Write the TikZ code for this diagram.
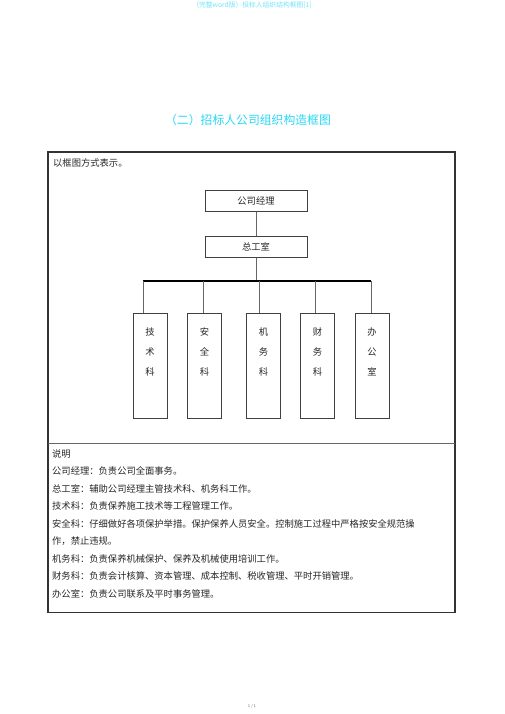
\documentclass[tikz,border=0pt]{standalone}
\usepackage{fontspec}
\usepackage{tikz}
\usetikzlibrary{positioning,calc}
\newfontfamily\cjk{Noto Sans CJK SC}
\definecolor{titlecyan}{RGB}{40,215,245}
\definecolor{headcyan}{RGB}{110,228,248}

\begin{document}
\begin{tikzpicture}[
    x=0.04158cm, y=-0.04158cm,
    every node/.style={font=\cjk\fontsize{11}{13}\selectfont, inner sep=0pt, text=black!85},
    topbox/.style={rectangle, draw=black!75, line width=0.7pt, minimum width=4.24cm, minimum height=0.85cm},
    deptbox/.style={rectangle, draw=black!75, line width=0.7pt, minimum width=1.41cm, minimum height=4.37cm},
    depttext/.style={align=center, font=\cjk\fontsize{11}{23.6}\selectfont},
    link/.style={draw=black!60, line width=0.8pt},
    bus/.style={draw=black, line width=1.6pt},
    frame/.style={draw=black!80, line width=1.2pt}
]
    \useasboundingbox (0,0) rectangle (505,714);

    % Page header and title
    \node[text=headcyan, font=\cjk\fontsize{8}{9}\selectfont] (head) at (252,5) {（完整word版）投标人组织结构框图[1]};
    \node[text=titlecyan, font=\cjk\fontsize{14}{16}\selectfont] (title) at (248,120) {（二）招标人公司组织构造框图};

    % Table frame
    \draw[frame] (48,152) rectangle (455,612);
    \draw[draw=black!60, line width=0.8pt] (48,443) -- (455,443);
    \node[anchor=west] (hint) at (53,163) {以框图方式表示。};

    % Top of the chart
    \node[topbox] (boss) at (256,201) {公司经理};
    \node[topbox] (office) at (256,247) {总工室};

    % Departments
    \node[deptbox] (k1) at (150,365.5) {};
    \node[deptbox] (k2) at (204.5,365.5) {};
    \node[deptbox] (k3) at (263.5,365.5) {};
    \node[deptbox] (k4) at (317.5,365.5) {};
    \node[deptbox] (k5) at (372,365.5) {};
    \node[depttext] (k1t) at (150,352) {技\\术\\科};
    \node[depttext] (k2t) at (204.5,352) {安\\全\\科};
    \node[depttext] (k3t) at (263.5,352) {机\\务\\科};
    \node[depttext] (k4t) at (317.5,352) {财\\务\\科};
    \node[depttext] (k5t) at (372,352) {办\\公\\室};

    % Connections
    \draw[link] (boss) -- (office);
    \coordinate (busL) at (143,281);
    \coordinate (busR) at (371,281);
    \draw[link] (office.south) -- (office.south |- busL);
    \draw[bus] (busL) -- (busR);
    \foreach \i/\x in {1/143,2/203,3/259,4/315,5/371} {
        \coordinate (d\i) at (\x,281);
        \draw[link] (d\i) -- (d\i |- k\i.north);
    }

    % Notes
    \node[anchor=north west, align=left, font=\cjk\fontsize{11}{20.7}\selectfont] (notes) at (52,449.5) {说明\\
公司经理：负责公司全面事务。\\
总工室：辅助公司经理主管技术科、机务科工作。\\
技术科：负责保养施工技术等工程管理工作。\\
安全科：仔细做好各项保护举措。保护保养人员安全。控制施工过程中严格按安全规范操\\
作，禁止违规。\\
机务科：负责保养机械保护、保养及机械使用培训工作。\\
财务科：负责会计核算、资本管理、成本控制、税收管理、平时开销管理。\\
办公室：负责公司联系及平时事务管理。};

    % Page number
    \node[text=black!60, font=\fontsize{5}{6}\selectfont] (page) at (252,706) {1/1};
\end{tikzpicture}
\end{document}
